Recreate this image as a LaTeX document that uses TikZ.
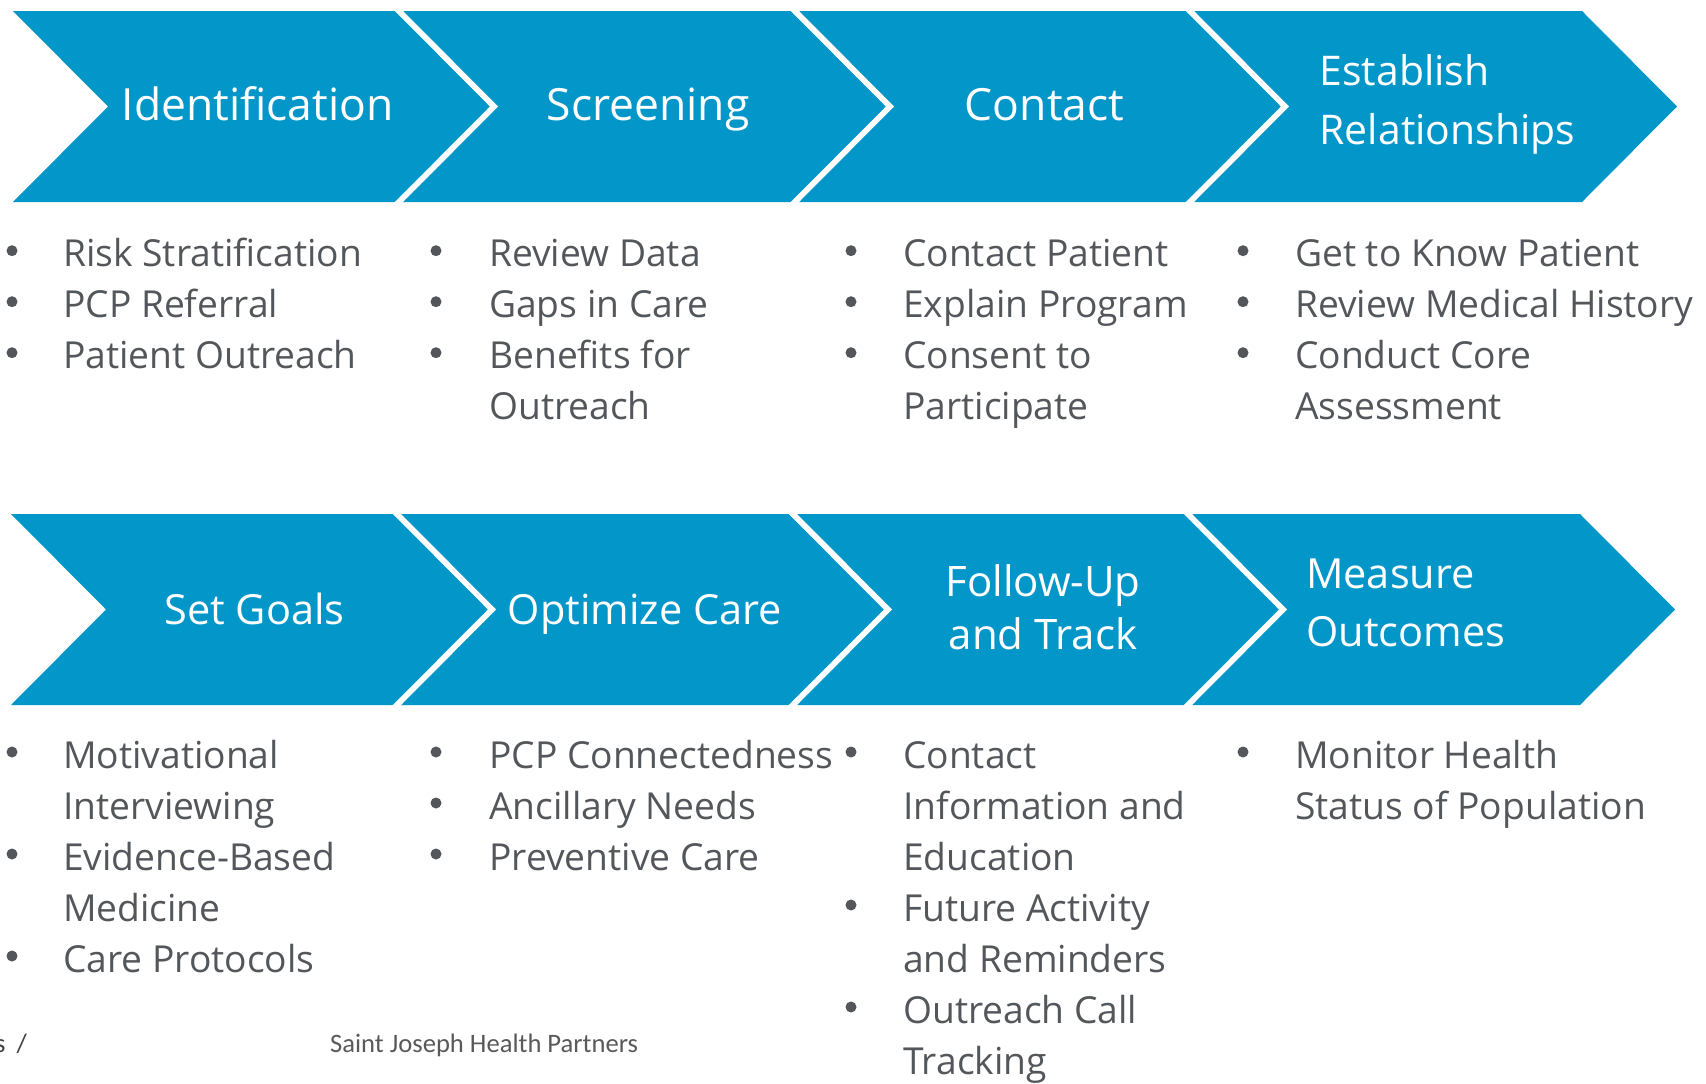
\documentclass[tikz,border=0pt]{standalone}
\usepackage{fontspec}
\setmainfont{Open Sans}
\newfontfamily\footfont{Carlito}

\definecolor{chevblue}{RGB}{3,150,201}
\definecolor{txtgrey}{RGB}{83,86,90}
\definecolor{footgrey}{RGB}{89,89,89}

\tikzset{
  chev/.style={fill=chevblue},
  gapline/.style={draw=white, line width=5.7pt},
  title/.style={text=white, inner sep=0pt, anchor=base, font=\fontsize{44.4}{58}\selectfont},
  titlesm/.style={text=white, inner sep=0pt, font=\fontsize{41.5}{58}\selectfont},
  item/.style={text=txtgrey, inner sep=0pt, anchor=base west, font=\fontsize{37.2}{51}\selectfont},
  dot/.style={circle, fill=txtgrey, inner sep=0pt, minimum size=11pt},
  foot/.style={text=footgrey, inner sep=0pt, anchor=base west, font=\footfont\fontsize{26.6}{32}\selectfont},
}

% one chevron: #1 left x, #2 top y
\newcommand\chevshape[2]{%
  \path[chev] (#1,#2) -- ++(392,0) -- ++(95,95.5) -- ++(-95,95.5)
     -- ++(-392,0) -- ++(95,-95.5) -- cycle;}
% white gap along the notch of a chevron: #1 left x, #2 top y
\newcommand\chevgap[2]{%
  \draw[gapline] (#1-4,#2-4) -- (#1+95,#2+95.5) -- (#1-4,#2+195);}

% a bulleted column: #1 prefix, #2 bullet x, #3 text x, #4 first baseline, #5 flag/text list
\newcommand\bulletcol[5]{%
  \foreach \flag/\txt [count=\k from 0] in {#5} {%
    \node[item] (#1-\k) at (#3, #4+51*\k) {\txt};
    \ifnum\flag=1 \node[dot] (#1-dot\k) at (#2, #4+51*\k-16) {};\fi
  }}

\begin{document}
\begin{tikzpicture}[x=1pt, y=-1pt]
\useasboundingbox (0,0) rectangle (1706,1084);

% ---- top row of chevrons ----
\chevshape{13}{11}
\chevshape{399}{11}\chevgap{399}{11}
\chevshape{795}{11}\chevgap{795}{11}
\chevshape{1190}{11}\chevgap{1190}{11}

\node[title] (t1) at (257.5,120.7) {Identification};
\node[title] (t2) at (648,120.7) {Screening};
\node[title] (t3) at (1044.6,120.7) {Contact};
\node[text=white, inner sep=0pt, anchor=base west, font=\fontsize{40.9}{58}\selectfont]
  (t4a) at (1319.5,85.7) {Establish};
\node[text=white, inner sep=0pt, anchor=base west, font=\fontsize{40.9}{58}\selectfont]
  (t4b) at (1319.5,144) {Relationships};

% ---- bottom row of chevrons ----
\chevshape{11}{514}
\chevshape{397}{514}\chevgap{397}{514}
\chevshape{793}{514}\chevgap{793}{514}
\chevshape{1188}{514}\chevgap{1188}{514}

\node[titlesm, anchor=base] (b1) at (254.5,624) {Set Goals};
\node[titlesm, anchor=base] (b2) at (645,624) {Optimize Care};
\node[titlesm, anchor=base, font=\fontsize{42}{58}\selectfont] (b3a) at (1043,596.7) {Follow-Up};
\node[titlesm, anchor=base, font=\fontsize{42}{58}\selectfont] (b3b) at (1043,649) {and Track};
\node[titlesm, anchor=base west] (b4a) at (1306,588) {Measure};
\node[titlesm, anchor=base west] (b4b) at (1306,646) {Outcomes};

% ---- bullet lists, top row ----
\bulletcol{u1}{12}{63}{266.7}{1/Risk Stratification,1/PCP Referral,1/Patient Outreach}
\bulletcol{u2}{436}{489}{266.7}{1/Review Data,1/Gaps in Care,1/Benefits for,0/Outreach}
\bulletcol{u3}{851}{903}{266.7}{1/Contact Patient,1/Explain Program,1/Consent to,0/Participate}
\bulletcol{u4}{1243}{1295}{266.7}{1/Get to Know Patient,1/Review Medical History,1/Conduct Core,0/Assessment}

% ---- bullet lists, bottom row ----
\bulletcol{l1}{12}{63}{768}{1/Motivational,0/Interviewing,1/Evidence-Based,0/Medicine,1/Care Protocols}
\bulletcol{l2}{436}{489}{768}{1/PCP Connectedness,1/Ancillary Needs,1/Preventive Care}
\bulletcol{l3}{851}{903}{768}{1/Contact,0/Information and,0/Education,1/Future Activity,0/and Reminders,1/Outreach Call,0/Tracking}
\bulletcol{l4}{1243}{1295}{768}{1/Monitor Health,0/Status of Population}

% ---- footer ----
\node[foot, text=black!75] (fl) at (-5,1052) {s\hspace{11pt}/};
\node[foot] (fr) at (330,1052) {Saint Joseph Health Partners};
\end{tikzpicture}
\end{document}
